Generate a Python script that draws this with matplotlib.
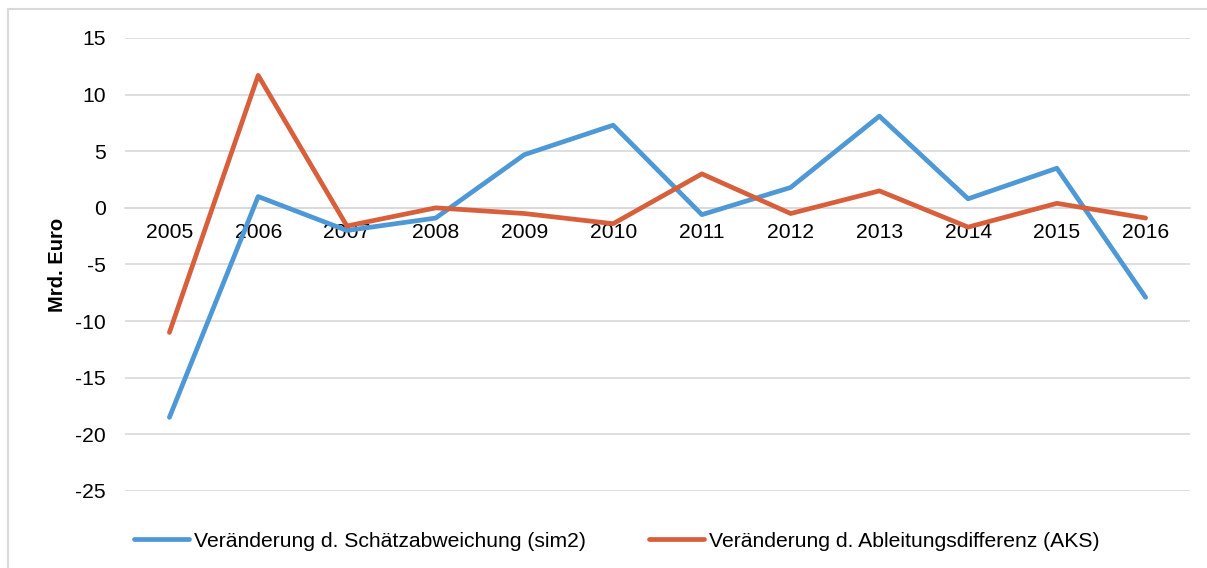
import matplotlib.pyplot as plt
from matplotlib.patches import Rectangle

plt.rcParams['font.family'] = ['Liberation Sans', 'DejaVu Sans']

years = ['2005', '2006', '2007', '2008', '2009', '2010',
         '2011', '2012', '2013', '2014', '2015', '2016']
schaetz = [-18.5, 1.0, -2.0, -0.9, 4.7, 7.3, -0.6, 1.8, 8.1, 0.8, 3.5, -7.9]
ableitung = [-11.0, 11.7, -1.6, 0.0, -0.5, -1.4, 3.0, -0.5, 1.5, -1.7, 0.4, -0.9]
y_ticks = [-25, -20, -15, -10, -5, 0, 5, 10, 15]

blue = '#4E98D6'
orange = '#D75F3C'
grid = '#D9D9D9'

fig = plt.figure(figsize=(12.07, 5.68), dpi=100)
ax = fig.add_axes([0.1036, 0.1356, 0.8823, 0.7975])

# outer frame of the chart area
fig.patches.append(Rectangle((8 / 1207, -0.05), 1.2, 1 - 9 / 568 + 0.05,
                             transform=fig.transFigure, fill=False,
                             edgecolor=grid, linewidth=1.5))

x = range(len(years))
ax.plot(x, schaetz, color=blue, linewidth=3.4, solid_capstyle='round',
        label='Veränderung d. Schätzabweichung (sim2)', zorder=3)
ax.plot(x, ableitung, color=orange, linewidth=3.4, solid_capstyle='round',
        label='Veränderung d. Ableitungsdifferenz (AKS)', zorder=3)

ax.set_xlim(-0.5, len(years) - 0.5)
ax.set_ylim(-25, 15)
ax.set_yticks(y_ticks)
ax.set_yticklabels([str(v) for v in y_ticks])
ax.set_xticks(list(x))
ax.set_xticklabels(years)

for v in y_ticks:
    ax.axhline(v, color=grid, linewidth=1.2, zorder=1)

for s in ['top', 'right', 'left']:
    ax.spines[s].set_visible(False)
ax.spines['bottom'].set_position(('data', 0))
ax.spines['bottom'].set_color(grid)
ax.spines['bottom'].set_linewidth(1.2)

ax.tick_params(axis='both', length=0, labelsize=15.2, colors='black')
ax.tick_params(axis='x', pad=11)
ax.tick_params(axis='y', pad=14)

ax.set_ylabel('Mrd. Euro', fontsize=14.5, fontweight='bold', labelpad=6)

fig.legend(loc='center', bbox_to_anchor=(0.511, 0.0475), ncol=2,
           frameon=False, fontsize=15.2, handlelength=2.6,
           handletextpad=0.25, columnspacing=3.0)

fig.savefig('out.png', dpi=100)
